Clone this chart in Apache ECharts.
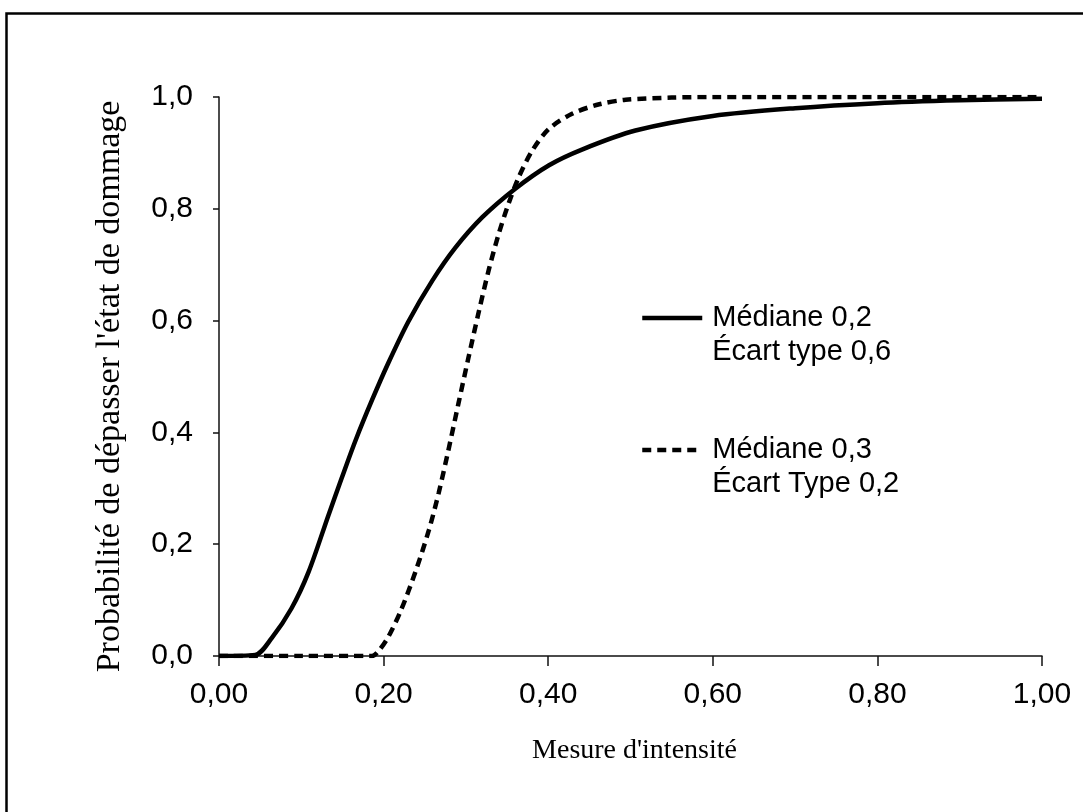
<!DOCTYPE html>
<html>
<head>
<meta charset="utf-8">
<script src="https://cdn.jsdelivr.net/npm/echarts@6/dist/echarts.min.js"></script>
<style>
html,body{margin:0;padding:0;background:#fff;}
#chart{width:1083px;height:812px;}
</style>
</head>
<body>
<div id="chart"></div>
<script>
// Data
var seriesNames = ['\nMédiane 0,2\nÉcart type 0,6', '\nMédiane 0,3\nÉcart Type 0,2'];
var solidX = [0, 0.044, 0.064, 0.088, 0.109, 0.133, 0.149, 0.166, 0.186, 0.206, 0.230, 0.259, 0.287, 0.320, 0.360, 0.401, 0.441, 0.506, 0.60, 0.70, 0.80, 0.90, 1.00];
var solidY = [0, 0.002, 0.032, 0.085, 0.151, 0.252, 0.318, 0.386, 0.458, 0.525, 0.598, 0.671, 0.730, 0.785, 0.836, 0.878, 0.906, 0.940, 0.966, 0.980, 0.989, 0.994, 0.997];
var dashX = [0, 0.10, 0.186, 0.194, 0.206, 0.222, 0.239, 0.255, 0.267, 0.279, 0.291, 0.303, 0.316, 0.328, 0.340, 0.352, 0.364, 0.381, 0.401, 0.429, 0.462, 0.494, 0.55, 0.60, 0.80, 1.00];
var dashY = [0, 0, 0, 0.009, 0.035, 0.085, 0.152, 0.225, 0.292, 0.370, 0.452, 0.533, 0.618, 0.692, 0.756, 0.810, 0.856, 0.905, 0.943, 0.970, 0.987, 0.995, 0.999, 1.0, 1.0, 1.0];
var xTicks = {min: 0, max: 1, interval: 0.2};
var yTicks = {min: 0, max: 1, interval: 0.2};
var xName = "Mesure d'intensité";
var yName = "Probabilité de dépasser l'état de dommage";

function pairs(xs, ys) { return xs.map(function (x, i) { return [x, ys[i]]; }); }

var chart = echarts.init(document.getElementById('chart'), null, {renderer: 'canvas'});
chart.setOption({
  animation: false,
  backgroundColor: '#fff',
  graphic: [{
    type: 'rect', left: 4, top: 11, z: -1,
    shape: {width: 1200, height: 1000},
    style: {fill: 'none', stroke: '#000', lineWidth: 2.5}
  }],
  grid: {left: 219, right: 41, top: 97, bottom: 156, containLabel: false},
  xAxis: {
    type: 'value', min: xTicks.min, max: xTicks.max, interval: xTicks.interval,
    name: xName, nameLocation: 'middle', nameGap: 81,
    nameTextStyle: {fontFamily: 'Liberation Serif', fontSize: 28, color: '#000', padding: [0, 0, 0, 8]},
    axisLine: {show: true, onZero: false, lineStyle: {color: '#111', width: 1.5}},
    axisTick: {show: true, length: 10, lineStyle: {color: '#111', width: 1.5}},
    axisLabel: {fontFamily: 'Liberation Sans', fontSize: 30, color: '#000', margin: 24,
      formatter: function (v) { return v.toFixed(2).replace('.', ','); }},
    splitLine: {show: false}
  },
  yAxis: {
    type: 'value', min: yTicks.min, max: yTicks.max, interval: yTicks.interval,
    name: yName, nameLocation: 'middle', nameGap: 92,
    nameTextStyle: {fontFamily: 'Liberation Serif', fontSize: 34, color: '#000', padding: [0, 20, 0, 0]},
    axisLine: {show: true, onZero: false, lineStyle: {color: '#111', width: 1.5}},
    axisTick: {show: true, length: 6, lineStyle: {color: '#111', width: 1.5}},
    axisLabel: {fontFamily: 'Liberation Sans', fontSize: 30, color: '#000', margin: 26,
      formatter: function (v) { return v.toFixed(1).replace('.', ','); }},
    splitLine: {show: false}
  },
  legend: {
    orient: 'vertical', left: 640, top: 267, itemGap: 30, padding: 0,
    itemWidth: 60, itemHeight: 14,
    itemStyle: {opacity: 0},
    lineStyle: {width: 4.5, color: '#000'},
    textStyle: {fontFamily: 'Liberation Sans', fontSize: 29, color: '#000', lineHeight: 34, padding: [0, 0, 0, 5]},
    data: seriesNames
  },
  series: [{
    name: seriesNames[0], type: 'line', smooth: 0.3, symbol: 'none',
    data: pairs(solidX, solidY),
    itemStyle: {color: '#000'},
    lineStyle: {color: '#000', width: 4.5, type: 'solid'}
  }, {
    name: seriesNames[1], type: 'line', smooth: 0.3, symbol: 'none',
    data: pairs(dashX, dashY),
    itemStyle: {color: '#000'},
    lineStyle: {color: '#000', width: 4.5, type: [9, 6]}
  }]
});
</script>
</body>
</html>
